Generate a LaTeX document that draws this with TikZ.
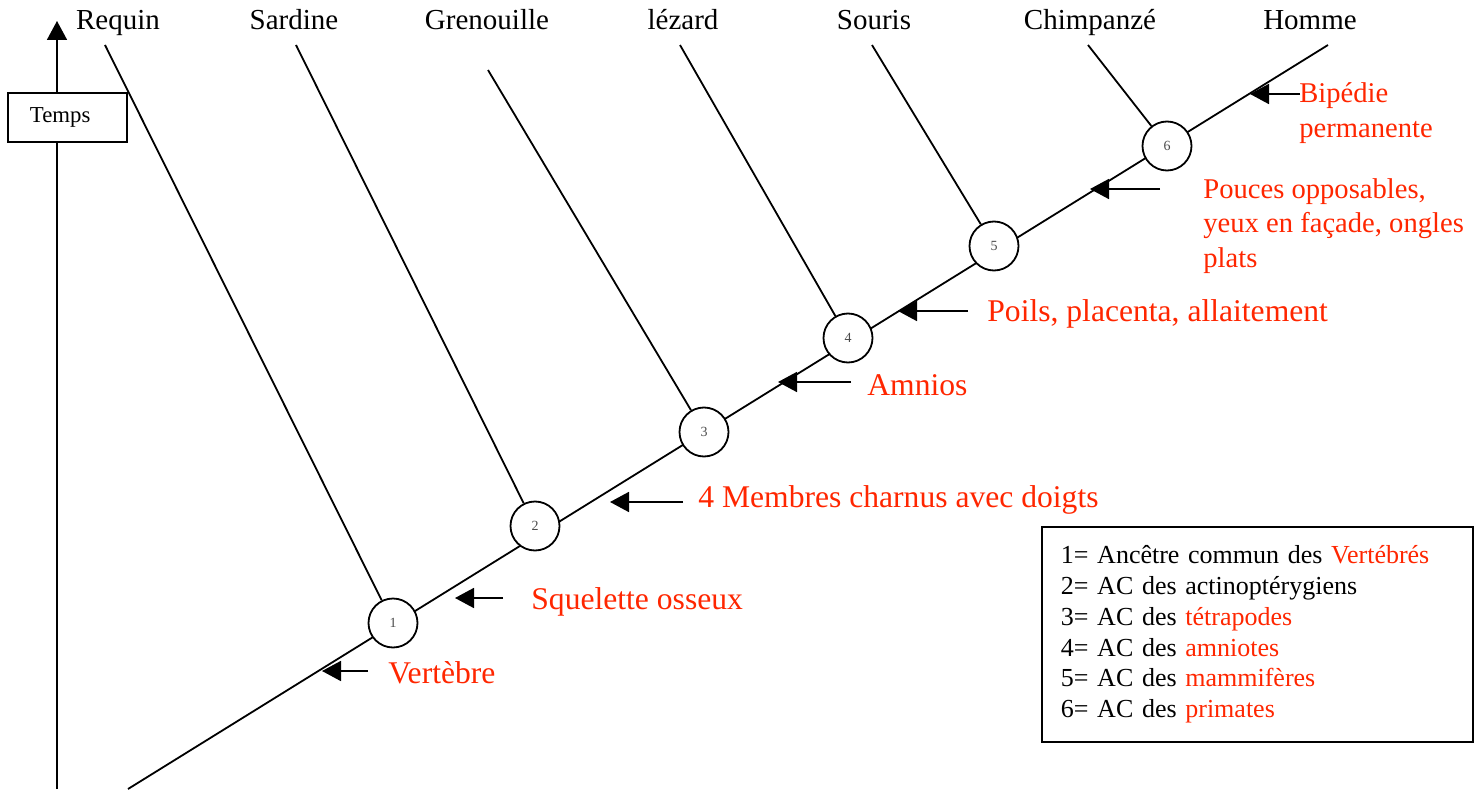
\documentclass[tikz,border=0pt]{standalone}
\usepackage{fontspec}
\setmainfont{Liberation Serif}
\usetikzlibrary{arrows.meta, positioning}
\definecolor{rouge}{RGB}{255,38,0}

\begin{document}
\begin{tikzpicture}[x=0.5pt, y=-0.5pt,
		trait/.style={line width=0.9pt},
		fleche/.style={-{Triangle[length=9.5pt, width=10pt]}, line width=0.9pt},
		noeud/.style={draw, circle, fill=white, line width=0.9pt, inner sep=0pt,
			minimum size=24.5pt, font=\fontsize{7}{8}\selectfont, text=black!70},
		espece/.style={anchor=base, font=\fontsize{14.5}{17}\selectfont, inner sep=0pt},
		carac/.style={anchor=west, text=rouge, font=\fontsize{15.8}{18}\selectfont, inner sep=0pt},
		petit/.style={anchor=west, text=rouge, font=\fontsize{14.3}{17.3}\selectfont,
			inner sep=0pt, align=left},
		legende/.style={draw, line width=0.9pt, anchor=north west, align=left,
			text width=196.5pt, inner xsep=9.5pt, minimum height=107.5pt,
			font=\fontsize{13}{15.4}\selectfont}
		]
		\useasboundingbox (0,0) rectangle (1484,792);
		
		\coordinate (t0) at (57,789);
		\coordinate (t1) at (57,21);
		\draw[trait, -{Triangle[length=9.5pt, width=10pt]}] (t0) -- (t1);
		\node[draw, fill=white, line width=0.9pt, text width=48.5pt, inner xsep=5.5pt,
			align=left, minimum height=24.5pt, font=\fontsize{11.4}{13}\selectfont]
			(temps) at (67.5,117.5) {\hspace*{5.5pt}\raisebox{-1.5pt}{Temps}};
		
		\foreach \n/\x/\t in {req/118/Requin, sar/294/Sardine, gre/487/Grenouille,
			lez/683/lézard, sou/874/Souris, chi/1090/Chimpanzé, hom/1310/Homme}
		\node[espece] (\n) at (\x,30) {\t};
		
		\coordinate (base) at (128,789);
		\coordinate (sommet) at (1328,45);
		\draw[trait] (base) -- (sommet);
		
		\foreach \i/\x/\y in {1/393/623, 2/535/526, 3/704/432, 4/848/338, 5/994/246, 6/1167/146}
		\node[noeud] (n\i) at (\x,\y) {\i};
		
		\foreach \i/\x/\y in {1/105/45, 2/296/45, 3/488/70, 4/680/45, 5/872/45, 6/1088/45}
		{
			\coordinate (b\i) at (\x,\y);
			\draw[trait] (b\i) -- (n\i);
		}
		
		\foreach \i/\a/\b/\y in {1/322/368/671, 2/455/503/598, 3/610/683/502, 4/778/851/382,
			5/898/968/311, 6/1090/1160/189, 7/1250/1300/94}
		{
			\coordinate (p\i) at (\a,\y);
			\coordinate (q\i) at (\b,\y);
			\draw[fleche] (q\i) -- (p\i);
		}
		
		\node[carac] (c1) at (388,673) {Vertèbre};
		\node[carac] (c2) at (531,602) {Squelette osseux};
		\node[carac] (c3) at (698,500) {4 Membres charnus avec doigts};
		\node[carac] (c4) at (867,385) {Amnios};
		\node[carac] (c5) at (987,314) {Poils, placenta, allaitement};
		\node[petit] (c6) at (1203,226) {Pouces opposables,\\yeux en façade, ongles\\plats};
		\node[petit] (c7) at (1299,113) {Bipédie\\permanente};
		
		\node[legende] (leg) at (1041,526) {1= Ancêtre commun des \textcolor{rouge}{Vertébrés}\\
			2= AC des actinoptérygiens\\
			3= AC des \textcolor{rouge}{tétrapodes}\\
			4= AC des \textcolor{rouge}{amniotes}\\
			5= AC des \textcolor{rouge}{mammifères}\\
			6= AC des \textcolor{rouge}{primates}};
	\end{tikzpicture}
\end{document}
